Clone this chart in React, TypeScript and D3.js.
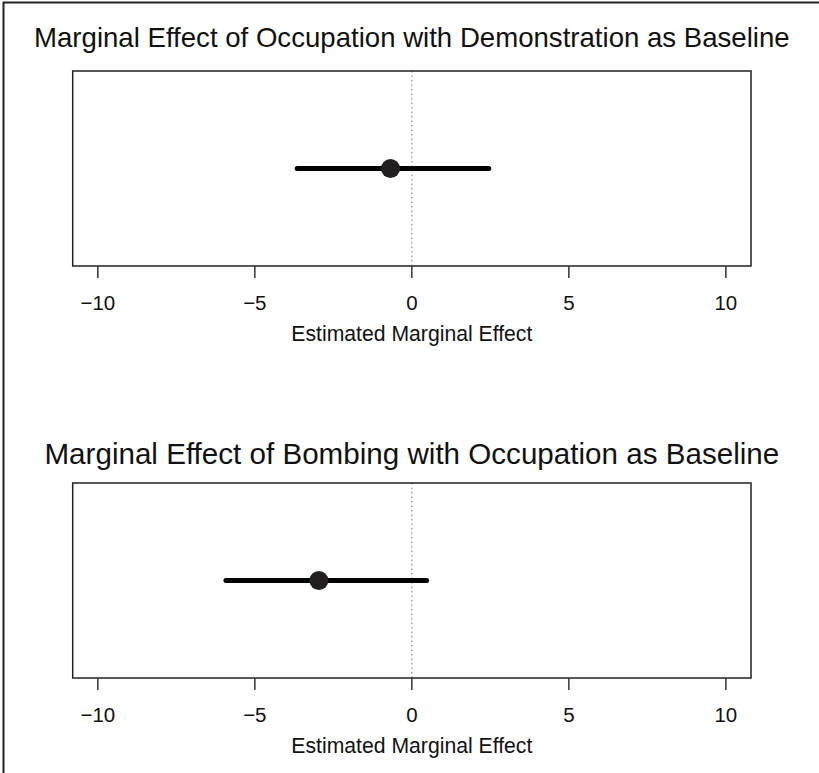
import React from "react";
import * as d3 from "d3";

const panelTitles = [
  "Marginal Effect of Occupation with Demonstration as Baseline",
  "Marginal Effect of Bombing with Occupation as Baseline",
];
const estimates = [-0.68, -2.96];
const lowerBounds = [-3.65, -5.92];
const upperBounds = [2.45, 0.47];
const tickValues = [-10, -5, 0, 5, 10];
const axisLabel = "Estimated Marginal Effect";

const W = 819;
const H = 773;
const FONT = "'Liberation Sans', Arial, Helvetica, sans-serif";

const panels = [
  { top: 71, bottom: 266, titleY: 37, titleSize: 27.6 },
  { top: 483, bottom: 678, titleY: 453, titleSize: 29.6 },
];

const x = d3.scaleLinear().domain([-10.8, 10.8]).range([72.7, 751]);

export default function App() {
  return (
    <svg
      width={W}
      height={H}
      style={{ position: "absolute", left: 0, top: 0, background: "#fff" }}
      fontFamily={FONT}
    >
      <rect x={0} y={0} width={W} height={H} fill="#fff" />
      {/* outer frame */}
      <rect x={3.5} y={2.5} width={W + 40} height={H + 40} fill="none" stroke="#222" strokeWidth={2} />
      {panels.map((p, i) => {
        const cy = (p.top + p.bottom) / 2;
        return (
          <g key={i}>
            <text x={(x.range()[0] + x.range()[1]) / 2} y={p.titleY} dy="0.36em" textAnchor="middle" fontSize={p.titleSize} fill="#111">
              {panelTitles[i]}
            </text>
            <line x1={x(0)} x2={x(0)} y1={p.top} y2={p.bottom} stroke="#777" strokeWidth={1} strokeDasharray="1.5,3" />
            <line x1={x(lowerBounds[i])} x2={x(upperBounds[i])} y1={cy} y2={cy} stroke="#000" strokeWidth={5} strokeLinecap="round" />
            <circle cx={x(estimates[i])} cy={cy} r={9.5} fill="#231f20" />
            <rect x={x.range()[0]} y={p.top} width={x.range()[1] - x.range()[0]} height={p.bottom - p.top} fill="none" stroke="#222" strokeWidth={1.5} />
            {tickValues.map((t) => (
              <g key={t}>
                <line x1={x(t)} x2={x(t)} y1={p.bottom} y2={p.bottom + 12} stroke="#333" strokeWidth={1.5} />
                <text x={x(t)} y={p.bottom + 37} dy="0.36em" textAnchor="middle" fontSize={20.5} fill="#111">
                  {t < 0 ? "\u2212" + Math.abs(t) : String(t)}
                </text>
              </g>
            ))}
            <text x={x(0)} y={p.bottom + 67} dy="0.36em" textAnchor="middle" fontSize={21.2} fill="#111">
              {axisLabel}
            </text>
          </g>
        );
      })}
    </svg>
  );
}
